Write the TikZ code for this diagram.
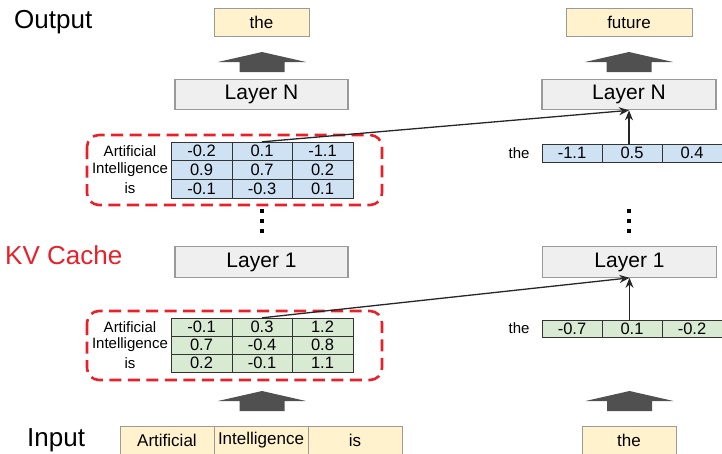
\documentclass[tikz,border=0pt]{standalone}
\usepackage{fontspec}
\setmainfont{Liberation Sans}
\usepackage{tikz}
\usetikzlibrary{arrows.meta}

\definecolor{tokfill}{HTML}{FFF2CC}
\definecolor{layfill}{HTML}{EFEFEF}
\definecolor{keyfill}{HTML}{CFE2F3}
\definecolor{valfill}{HTML}{D9EAD3}
\definecolor{kvred}{HTML}{E8202A}
\definecolor{boxgray}{HTML}{9A9A9A}
\definecolor{arrgray}{HTML}{505050}

\tikzset{
  tok/.style={draw=boxgray, fill=tokfill, minimum width=94pt, minimum height=28pt, inner sep=0pt, font=\fontsize{17}{20}\selectfont},
  layer/.style={draw=boxgray, line width=1.2pt, fill=layfill, minimum width=173pt, minimum height=30.5pt, inner sep=0pt, font=\fontsize{21}{24}\selectfont},
  cell/.style={draw=black!80, minimum width=60.5pt, inner sep=0pt, font=\fontsize{16.5}{18}\selectfont},
  rowlab/.style={inner sep=0pt, font=\fontsize{15}{17}\selectfont},
  biglab/.style={anchor=west, inner sep=0pt, font=\fontsize{26}{30}\selectfont},
  cachebox/.style={draw=kvred, line width=2.6pt, dash pattern=on 12pt off 6.5pt, rounded corners=12pt},
  link/.style={draw=black!85, line width=1.3pt, -{Stealth[length=10pt,width=8pt]}},
  bigup/.pic={\fill[arrgray] (-44,0) -- (0,-10) -- (44,0) -- (22.5,0) -- (22.5,10) -- (-22.5,10) -- (-22.5,0) -- cycle;}
}

\begin{document}
\begin{tikzpicture}[x=1pt,y=-1pt]
\useasboundingbox (0,0) rectangle (722,453);
% side labels
\node[biglab] (outlab) at (14,22) {Output};
\node[biglab, text=kvred] (kvlab) at (5,255) {KV Cache};
\node[biglab] (inlab) at (27,440) {Input};
% output tokens
\node[tok, minimum width=95pt] (outL) at (261.5,22) {the};
\node[tok, minimum width=126pt] (outR) at (629,22) {future};
\pic at (262,62) {bigup};
\pic at (629,62) {bigup};
% layers
\node[layer] (layNL) at (261.5,94.5) {Layer N};
\node[layer, minimum width=174pt] (layNR) at (629,94.5) {Layer N};
\node[layer] (lay1L) at (261.5,262) {Layer 1};
\node[layer, minimum width=174pt] (lay1R) at (629.5,262) {Layer 1};
% cached keys (upper) and values (lower)
\foreach \w/\a/\b/\c [count=\r] in {Artificial/-0.2/0.1/-1.1, Intelligence/0.9/0.7/0.2, is/-0.1/-0.3/0.1}{
  \node[rowlab] (kl-\r) at (130,{151.3+18.6*(\r-1)}) {\w};
  \node[cell, fill=keyfill, minimum height=18.6pt] (kc-\r-1) at (201.5,{151.3+18.6*(\r-1)}) {\a};
  \node[cell, fill=keyfill, minimum height=18.6pt] (kc-\r-2) at (262,{151.3+18.6*(\r-1)}) {\b};
  \node[cell, fill=keyfill, minimum height=18.6pt] (kc-\r-3) at (322.5,{151.3+18.6*(\r-1)}) {\c};
}
\foreach \w/\a/\b/\c [count=\r] in {Artificial/-0.1/0.3/1.2, Intelligence/0.7/-0.4/0.8, is/0.2/-0.1/1.1}{
  \node[rowlab] (vl-\r) at (130,{327+18*(\r-1)}) {\w};
  \node[cell, fill=valfill, minimum height=18pt] (vc-\r-1) at (201.5,{327+18*(\r-1)}) {\a};
  \node[cell, fill=valfill, minimum height=18pt] (vc-\r-2) at (262,{327+18*(\r-1)}) {\b};
  \node[cell, fill=valfill, minimum height=18pt] (vc-\r-3) at (322.5,{327+18*(\r-1)}) {\c};
}
\draw[cachebox] (87,135) rectangle (382,205);
\draw[cachebox] (87,311) rectangle (382,380);
% new token vectors
\node[rowlab] (klnew) at (519,153) {the};
\foreach \v [count=\i] in {-1.1,0.5,0.4}
  \node[cell, fill=keyfill, minimum width=60pt, minimum height=18pt] (kn-\i) at ({512+60*\i},153) {\v};
\node[rowlab] (vlnew) at (519,328.5) {the};
\foreach \v [count=\i] in {-0.7,0.1,-0.2}
  \node[cell, fill=valfill, minimum width=60pt, minimum height=17pt] (vn-\i) at ({512+60*\i},328.5) {\v};
% dots between layers
\foreach \yy in {213,223,233}{
  \fill (260,\yy) rectangle ++(4,-4);
  \fill (627,\yy) rectangle ++(4,-4);
}
% connectors
\draw[link] (kc-1-2.north) -- (layNR.south);
\draw[link] (layNR.south |- kn-2.north) -- (layNR.south);
\draw[link] (vc-1-2.north) -- (lay1R.south);
\draw[link] (lay1R.south |- vn-2.north) -- (lay1R.south);
% input tokens
\pic at (262,401) {bigup};
\pic at (629.5,401) {bigup};
\node[tok] (in1) at (167,440) {Artificial};
\node[tok] (in2) at (261,440) {Intelligence};
\node[tok] (in3) at (355,440) {is};
\node[tok] (in4) at (629,440) {the};
\end{tikzpicture}
\end{document}
